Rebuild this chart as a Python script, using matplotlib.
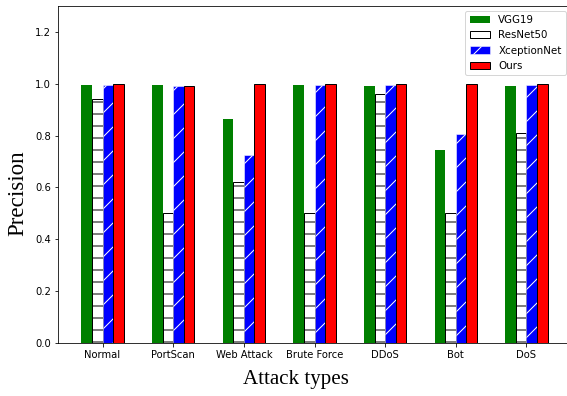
import matplotlib
matplotlib.use("Agg")
import matplotlib.pyplot as plt
import numpy as np

attacks = ['Normal', 'PortScan', 'Web Attack', 'Brute Force', 'DDoS', 'Bot', 'DoS']
vgg19 = [0.995, 0.995, 0.865, 0.995, 0.99, 0.745, 0.99]
resnet50 = [0.94, 0.50, 0.62, 0.50, 0.96, 0.50, 0.81]
xception = [0.995, 0.99, 0.725, 0.995, 0.995, 0.805, 0.995]
ours = [1.0, 0.99, 1.0, 1.0, 1.0, 1.0, 1.0]

x = np.arange(len(attacks))
w = 0.15

fig = plt.figure(figsize=(567 / 72, 396 / 72), dpi=72)
ax = fig.add_axes([58 / 567, 1 - 343 / 396, 513 / 567, 337 / 396])

ax.bar(x - 1.5 * w, vgg19, w, color='green', label='VGG19')
ax.bar(x - 0.5 * w, resnet50, w, color='white', edgecolor='black', hatch='-', label='ResNet50')
ax.bar(x + 0.5 * w, xception, w, color='blue', edgecolor='white', hatch='/', linewidth=0.5, label='XceptionNet')
ax.bar(x + 1.5 * w, ours, w, color='red', edgecolor='black', label='Ours')

ax.set_xticks(x)
ax.set_xticklabels(attacks)
ax.set_ylim(0, 1.3)
ax.set_yticks([0.0, 0.2, 0.4, 0.6, 0.8, 1.0, 1.2])
ax.set_xlabel('Attack types', family='Liberation Serif', fontsize=21)
ax.set_ylabel('Precision', family='Liberation Serif', fontsize=23)
ax.xaxis.set_label_coords(0.463, -0.080)
ax.yaxis.set_label_coords(-0.057, 0.445)
ax.legend(loc='upper right', fontsize=10.3)

fig.savefig('out.png', dpi=72)
